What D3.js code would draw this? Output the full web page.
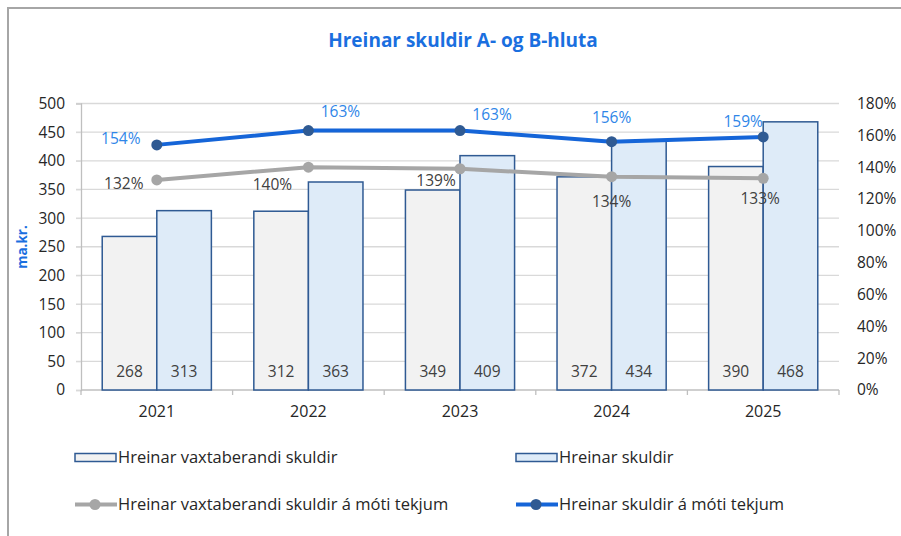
<!DOCTYPE html>
<html>
<head>
<meta charset="utf-8">
<script src="https://cdn.jsdelivr.net/npm/d3@7"></script>
<style>
  body { margin: 0; background: #fff; }
  svg { display: block; font-family: "Open Sans", sans-serif; }
</style>
</head>
<body>
<svg width="901" height="536"></svg>
<script>
const years = ["2021", "2022", "2023", "2024", "2025"];
const vaxtaberandi = [268, 312, 349, 372, 390];
const skuldir = [313, 363, 409, 434, 468];
const vaxtaberandiHlutfall = [132, 140, 139, 134, 133];
const skuldirHlutfall = [154, 163, 163, 156, 159];
const leftTicks = [0, 50, 100, 150, 200, 250, 300, 350, 400, 450, 500];
const rightTicks = [0, 20, 40, 60, 80, 100, 120, 140, 160, 180];

const barSeries = [
  { name: "Hreinar vaxtaberandi skuldir", values: vaxtaberandi, fill: "#F2F2F2" },
  { name: "Hreinar skuldir", values: skuldir, fill: "#DEEBF8" }
];
const lineSeries = [
  { name: "Hreinar vaxtaberandi skuldir á móti tekjum", values: vaxtaberandiHlutfall,
    line: "#A6A6A6", marker: "#A6A6A6", label: "#404040" },
  { name: "Hreinar skuldir á móti tekjum", values: skuldirHlutfall,
    line: "#1565D8", marker: "#2F5A93", label: "#2F86E8" }
];
// label placement (dx, dy from the point, in px) as Excel put them
const greyLabelPos = [[-33, 4], [-36, 17], [-24, 12], [0, 25], [-3, 20]];
const blueLabelPos = [[-36, -6], [32, -19], [32, -16], [0, -24], [-20, -15]];

const svg = d3.select("svg");
const plot = { left: 81, right: 839, top: 103.5, bottom: 390 };
const stroke = "#2F5A93";

// frame
svg.append("path")
  .attr("d", "M8,536V8H901")
  .attr("fill", "none")
  .attr("stroke", "#A6A6A6")
  .attr("stroke-width", 2);

svg.append("text")
  .attr("x", 463).attr("y", 47)
  .attr("text-anchor", "middle")
  .attr("fill", "#1A6FDF")
  .attr("font-weight", "bold")
  .attr("font-size", 19)
  .text("Hreinar skuldir A- og B-hluta");

const x0 = d3.scaleBand()
  .domain(years)
  .range([plot.left, plot.right])
  .paddingInner(0.28)
  .paddingOuter(0.14);

const x1 = d3.scaleBand()
  .domain([0, 1])
  .range([0, x0.bandwidth()]);

const y = d3.scaleLinear().domain([0, 500]).range([plot.bottom, plot.top]);
const yr = d3.scaleLinear().domain([0, 180]).range([plot.bottom, plot.top]);

// gridlines
svg.append("g")
  .selectAll("line")
  .data(leftTicks.slice(1))
  .join("line")
  .attr("x1", plot.left - 5).attr("x2", plot.right)
  .attr("y1", d => y(d)).attr("y2", d => y(d))
  .attr("stroke", "#D9D9D9")
  .attr("stroke-width", 1.3);

// left axis
const leftAxis = svg.append("g")
  .attr("transform", `translate(${plot.left},0)`)
  .call(d3.axisLeft(y).tickValues(leftTicks).tickSize(5).tickPadding(11));
leftAxis.select(".domain").attr("stroke", "#BFBFBF").attr("stroke-width", 1.3);
leftAxis.selectAll(".tick line").attr("stroke", "#D9D9D9");
leftAxis.selectAll("text")
  .attr("font-family", "Open Sans")
  .attr("font-size", 15.5)
  .attr("fill", "#262626");

// right axis (labels only)
const rightAxis = svg.append("g")
  .attr("transform", `translate(${plot.right},0)`)
  .call(d3.axisRight(yr).tickValues(rightTicks).tickSize(0).tickPadding(18).tickFormat(d => d + "%"));
rightAxis.select(".domain").remove();
rightAxis.selectAll("text")
  .attr("font-family", "Open Sans")
  .attr("font-size", 15.5)
  .attr("fill", "#262626");

// bottom axis, ticks between categories
const bottom = svg.append("g");
bottom.append("line")
  .attr("x1", plot.left).attr("x2", plot.right)
  .attr("y1", plot.bottom).attr("y2", plot.bottom)
  .attr("stroke", "#BFBFBF").attr("stroke-width", 1.3);
const step = x0.step();
bottom.selectAll(".sep")
  .data(d3.range(years.length + 1))
  .join("line")
  .attr("x1", i => plot.left + i * step).attr("x2", i => plot.left + i * step)
  .attr("y1", plot.bottom).attr("y2", plot.bottom + 5)
  .attr("stroke", "#BFBFBF").attr("stroke-width", 1.3);
bottom.selectAll(".cat")
  .data(years)
  .join("text")
  .attr("x", d => x0(d) + x0.bandwidth() / 2)
  .attr("y", 417)
  .attr("text-anchor", "middle")
  .attr("font-size", 16)
  .attr("fill", "#262626")
  .text(d => d);

svg.append("text")
  .attr("transform", "translate(27,247) rotate(-90)")
  .attr("text-anchor", "middle")
  .attr("fill", "#1A6FDF")
  .attr("font-weight", "bold")
  .attr("font-size", 13.5)
  .text("ma.kr.");

// bars
barSeries.forEach((s, si) => {
  const g = svg.append("g");
  g.selectAll("rect")
    .data(years)
    .join("rect")
    .attr("x", d => x0(d) + x1(si))
    .attr("y", (d, i) => y(s.values[i]))
    .attr("width", x1.bandwidth())
    .attr("height", (d, i) => plot.bottom - y(s.values[i]))
    .attr("fill", s.fill)
    .attr("stroke", stroke)
    .attr("stroke-width", 1.5);
  g.selectAll("text")
    .data(years)
    .join("text")
    .attr("x", d => x0(d) + x1(si) + x1.bandwidth() / 2)
    .attr("y", 377)
    .attr("text-anchor", "middle")
    .attr("font-size", 15.5)
    .attr("fill", "#404040")
    .text((d, i) => s.values[i]);
});

// lines
const cx = d => x0(d) + x0.bandwidth() / 2;
lineSeries.forEach((s, si) => {
  const pts = years.map((d, i) => [cx(d), yr(s.values[i])]);
  svg.append("path")
    .attr("d", d3.line()(pts))
    .attr("fill", "none")
    .attr("stroke", s.line)
    .attr("stroke-width", 4)
    .attr("stroke-linejoin", "round");
  svg.append("g")
    .selectAll("circle")
    .data(pts)
    .join("circle")
    .attr("cx", p => p[0]).attr("cy", p => p[1])
    .attr("r", 5.5)
    .attr("fill", s.marker);
});

lineSeries.forEach((s, si) => {
  const pos = si === 0 ? greyLabelPos : blueLabelPos;
  svg.append("g")
    .selectAll("text")
    .data(years)
    .join("text")
    .attr("x", (d, i) => cx(d) + pos[i][0])
    .attr("y", (d, i) => yr(s.values[i]) + pos[i][1])
    .attr("dy", "0.35em")
    .attr("text-anchor", "middle")
    .attr("font-size", 15.5)
    .attr("fill", s.label)
    .text((d, i) => s.values[i] + "%");
});

// legend
const legendItems = [
  { s: barSeries[0], type: "bar", x: 75, y: 457.5 },
  { s: barSeries[1], type: "bar", x: 516, y: 457.5 },
  { s: lineSeries[0], type: "line", x: 75, y: 504.5 },
  { s: lineSeries[1], type: "line", x: 516, y: 504.5 }
];
const lg = svg.append("g").selectAll("g")
  .data(legendItems)
  .join("g")
  .attr("transform", d => `translate(${d.x},${d.y})`);
lg.filter(d => d.type === "bar").append("rect")
  .attr("x", 0).attr("y", -4)
  .attr("width", 41).attr("height", 8)
  .attr("fill", d => d.s.fill)
  .attr("stroke", stroke)
  .attr("stroke-width", 1.5);
lg.filter(d => d.type === "line").append("line")
  .attr("x1", 0).attr("x2", 42)
  .attr("stroke", d => d.s.line)
  .attr("stroke-width", 4);
lg.filter(d => d.type === "line").append("circle")
  .attr("cx", 20).attr("r", 5.5)
  .attr("fill", d => d.s.marker);
lg.append("text")
  .attr("x", 43)
  .attr("dy", "0.35em")
  .attr("font-size", 16.5)
  .attr("fill", "#262626")
  .text(d => d.s.name);
</script>
</body>
</html>
